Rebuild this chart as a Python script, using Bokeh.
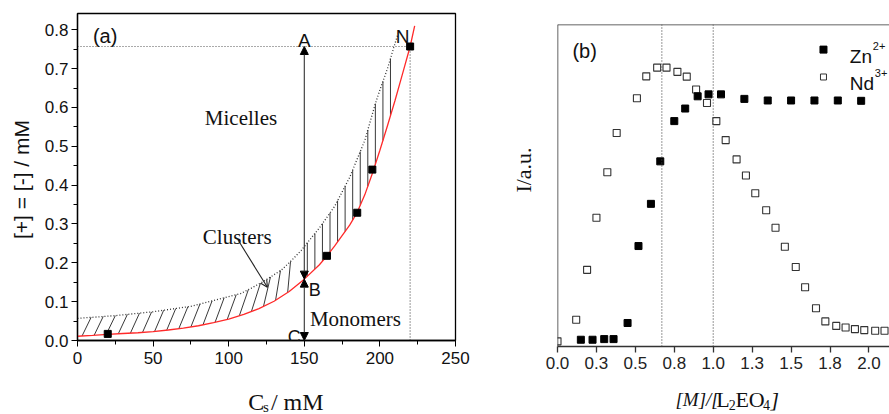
import numpy as np
from bokeh.plotting import figure
from bokeh.layouts import row, column
from bokeh.models import FixedTicker, Label, Arrow, NormalHead, OpenHead, Span, Range1d
from bokeh.embed import file_html
from bokeh.resources import INLINE

# ---------------- data: panel (a) ----------------
cs_red = [0, 10, 20, 30, 40, 50, 60, 70, 80, 90, 100, 110, 120, 130, 140, 150,
          160, 165, 170, 180, 185, 190, 195, 200, 205, 210, 215, 220, 223]
conc_red = [0.011, 0.013, 0.016, 0.018, 0.020, 0.023, 0.027, 0.032, 0.038, 0.046,
            0.055, 0.067, 0.082, 0.101, 0.126, 0.158, 0.195, 0.218, 0.243, 0.297,
            0.330, 0.375, 0.430, 0.490, 0.553, 0.618, 0.687, 0.757, 0.810]
cs_dot = [0, 25, 50, 75, 100, 108, 115, 123, 135, 141, 148, 150, 160, 170, 180,
          190, 197, 200, 205, 210, 212]
conc_dot = [0.057, 0.064, 0.074, 0.088, 0.113, 0.121, 0.135, 0.152, 0.182, 0.204,
            0.232, 0.242, 0.290, 0.345, 0.420, 0.515, 0.610, 0.645, 0.700, 0.765, 0.790]
cs_pts = [20, 165, 185, 195, 220]
conc_pts = [0.017, 0.218, 0.329, 0.440, 0.757]
cs_abc = 150
conc_A = 0.757
conc_B = 0.158
conc_C = 0.0
xa_ticks = [0, 50, 100, 150, 200, 250]
xa_labels = ["0", "50", "100", "150", "200", "250"]
xa_minor = [25, 75, 125, 175, 225]
ya_ticks = [0.0, 0.1, 0.2, 0.3, 0.4, 0.5, 0.6, 0.7, 0.8]
ya_labels = ["0.0", "0.1", "0.2", "0.3", "0.4", "0.5", "0.6", "0.7", "0.8"]
ya_minor = [0.05, 0.15, 0.25, 0.35, 0.45, 0.55, 0.65, 0.75]

# ---------------- data: panel (b) ----------------
zn_x = [0.15, 0.225, 0.30, 0.36, 0.45, 0.52, 0.60, 0.66, 0.75, 0.82, 0.90, 0.97,
        1.05, 1.20, 1.35, 1.50, 1.65, 1.80, 1.95]
zn_y = [0.021, 0.021, 0.023, 0.023, 0.073, 0.312, 0.443, 0.575, 0.700, 0.739,
        0.777, 0.783, 0.783, 0.769, 0.764, 0.764, 0.764, 0.764, 0.763]
nd_x = [0.00, 0.12, 0.19, 0.25, 0.32, 0.38, 0.51, 0.57, 0.64, 0.70, 0.77, 0.83,
        0.89, 0.96, 1.02, 1.08, 1.15, 1.21, 1.27, 1.34, 1.40, 1.46, 1.53, 1.59,
        1.66, 1.72, 1.79, 1.85, 1.91, 1.97, 2.04, 2.10]
nd_y = [0.016, 0.083, 0.238, 0.400, 0.541, 0.663, 0.771, 0.839, 0.866, 0.866,
        0.853, 0.838, 0.798, 0.756, 0.700, 0.641, 0.581, 0.531, 0.476, 0.423,
        0.369, 0.310, 0.247, 0.184, 0.119, 0.078, 0.064, 0.059, 0.054, 0.051,
        0.049, 0.049]
ratio_lines = [0.67, 1.0]
xb_ticks = [0.0, 0.25, 0.5, 0.75, 1.0, 1.25, 1.5, 1.75, 2.0]
xb_labels = ["0.0", "0.3", "0.5", "0.8", "1.0", "1.3", "1.5", "1.8", "2.0"]

SANS = "Liberation Sans"
SERIF = "Liberation Serif"


def lab(p, x, y, text, font=SANS, size="18px", align="left", style="normal",
        angle=0.0, baseline="alphabetic", color="#111111"):
    p.add_layout(Label(x=x, y=y, text=text, text_font=font, text_font_size=size,
                       text_align=align, text_font_style=style, angle=angle,
                       text_baseline=baseline, text_color=color))


def strip(w, h, x0, x1, y_bottom, y_top):
    """Blank figure whose frame fills the canvas, ranged in page pixels."""
    s = figure(width=w, height=h, x_range=Range1d(x0, x1),
               y_range=Range1d(y_bottom, y_top), min_border=0,
               x_axis_location=None, y_axis_location=None,
               output_backend="svg", toolbar_location=None)
    s.grid.visible = False
    s.outline_line_color = None
    s.background_fill_color = "white"
    s.border_fill_color = "white"
    return s


# ================= panel (a) =================
p1 = figure(width=432, height=370, x_range=(0, 250), y_range=(0, 0.842),
            min_border_left=39, min_border_right=15, min_border_top=13,
            min_border_bottom=30, output_backend="svg", toolbar_location=None)
p1.grid.visible = False
p1.outline_line_color = "black"
p1.outline_line_width = 1.3
p1.background_fill_color = "white"
p1.border_fill_color = "white"

p1.xaxis.ticker = FixedTicker(ticks=xa_ticks, minor_ticks=xa_minor)
p1.xaxis.major_label_overrides = {t: l for t, l in zip(xa_ticks, xa_labels)}
p1.yaxis.ticker = FixedTicker(ticks=ya_ticks, minor_ticks=ya_minor)
p1.yaxis.major_label_overrides = {t: l for t, l in zip(ya_ticks, ya_labels)}
for ax in (p1.xaxis, p1.yaxis):
    ax.axis_line_color = "black"
    ax.axis_line_width = 1.3
    ax.major_tick_in = 0
    ax.major_tick_out = 6
    ax.minor_tick_in = 0
    ax.minor_tick_out = 4
    ax.major_tick_line_color = "black"
    ax.minor_tick_line_color = "black"
    ax.major_label_text_font = SANS
    ax.major_label_text_font_size = "17px"
    ax.major_label_text_color = "#111111"
p1.xaxis.major_label_standoff = 5
p1.yaxis.major_label_standoff = 3

# hatching between the monomer curve and the dotted cluster curve
hx = np.concatenate([np.arange(3, 147, 8), np.arange(152, 210, 5)]).astype(float)
hdx = np.interp(hx, [0, 115, 150], [6, 6, 0])
h_y0 = np.interp(hx, cs_red, conc_red)
h_y1 = np.interp(hx + hdx, cs_dot, conc_dot)
p1.segment(x0=hx, y0=h_y0, x1=hx + hdx, y1=h_y1, line_color="#222222", line_width=0.9)

# reference dotted lines to N
p1.line([0, cs_pts[-1]], [conc_pts[-1], conc_pts[-1]], line_color="#555555",
        line_dash="1 2", line_width=1.2)
p1.line([cs_pts[-1], cs_pts[-1]], [0, conc_pts[-1]], line_color="#555555",
        line_dash="1 2", line_width=1.2)

p1.line(cs_dot, conc_dot, line_color="#333333", line_dash="1 2", line_width=1.3)
p1.line(cs_red, conc_red, line_color="#ff2a2a", line_width=1.3)
p1.scatter(cs_pts, conc_pts, marker="square", size=7, color="black")

head = dict(size=8, fill_color="black", line_color="black")
p1.add_layout(Arrow(x_start=cs_abc, y_start=conc_B, x_end=cs_abc, y_end=conc_A,
                    line_color="#333333", line_width=1.1,
                    start=NormalHead(**head), end=NormalHead(**head)))
p1.add_layout(Arrow(x_start=cs_abc, y_start=conc_B, x_end=cs_abc, y_end=conc_C,
                    line_color="#333333", line_width=1.1,
                    start=NormalHead(**head), end=NormalHead(**head)))
p1.add_layout(Arrow(x_start=106, y_start=0.26, x_end=125.6, y_end=0.137,
                    line_color="#222222", line_width=1.1,
                    end=OpenHead(size=7, line_color="#222222", line_width=1.1)))

lab(p1, 10.2, 0.785, "(a)", size="20px")
lab(p1, cs_abc, 0.772, "A", size="19px", align="center")
lab(p1, 215, 0.783, "N", size="19px", align="center")
lab(p1, 153, 0.130, "B", size="18px")
lab(p1, 147.7, 0.008, "C", size="18px", align="right")
lab(p1, 84.2, 0.572, "Micelles", font=SERIF, size="21px")
lab(p1, 82.9, 0.267, "Clusters", font=SERIF, size="21px")
lab(p1, 153.7, 0.0546, "Monomers", font=SERIF, size="21px")

# axis-title strips for (a), ranged in page pixels
sAL = strip(38, 414, 0, 38, 414, 0)
lab(sAL, 21, 179, "[+] = [-] / mM", size="21px", align="center",
    angle=np.pi / 2, baseline="middle")
sAB = strip(432, 44, 38, 470, 414, 370)
lab(sAB, 233, 401, "C", font=SERIF, size="24px")
lab(sAB, 250, 406, "s", font=SERIF, size="15px")
lab(sAB, 259, 401, "/ mM", font=SERIF, size="24px")

# ================= panel (b) =================
p2 = figure(width=349, height=376, x_range=(0, 2.132), y_range=(0, 1.0),
            min_border_left=17, min_border_right=0, min_border_top=24,
            min_border_bottom=30, output_backend="svg", toolbar_location=None)
p2.grid.visible = False
p2.outline_line_color = None
p2.background_fill_color = "white"
p2.border_fill_color = "white"
p2.yaxis.visible = False
p2.add_layout(Span(location=1.0, dimension="width", line_color="#333333",
                   line_width=1.5))
p2.add_layout(Span(location=0.0, dimension="height", line_color="#333333",
                   line_width=1.5))

p2.xaxis.ticker = FixedTicker(ticks=xb_ticks, minor_ticks=[])
p2.xaxis.major_label_overrides = {t: l for t, l in zip(xb_ticks, xb_labels)}
p2.xaxis.axis_line_color = "#333333"
p2.xaxis.axis_line_width = 1.5
p2.xaxis.major_tick_in = 0
p2.xaxis.major_tick_out = 6
p2.xaxis.minor_tick_line_color = None
p2.xaxis.major_tick_line_color = "#333333"
p2.xaxis.major_tick_line_width = 1.3
p2.xaxis.major_label_text_font = SANS
p2.xaxis.major_label_text_font_size = "17px"
p2.xaxis.major_label_text_color = "#222222"
p2.xaxis.major_label_standoff = 4

for xv in ratio_lines:
    p2.add_layout(Span(location=xv, dimension="height", line_color="#444444",
                       line_dash="1 2", line_width=1.1))

p2.scatter(nd_x, nd_y, marker="square", size=7, fill_color="white",
           line_color="#333333", line_width=1.1)
p2.scatter(zn_x, zn_y, marker="square", size=7, color="black")

# legend (manual, for the superscripts)
p2.scatter([1.708], [0.922], marker="square", size=7, color="black")
p2.scatter([1.708], [0.837], marker="square", size=6, fill_color="white",
           line_color="#333333", line_width=1.0)
lab(p2, 1.877, 0.901, "Zn", size="19px")
lab(p2, 2.025, 0.934, "2+", size="11px")
lab(p2, 1.877, 0.818, "Nd", size="19px")
lab(p2, 2.038, 0.850, "3+", size="11px")
lab(p2, 0.096, 0.917, "(b)", size="20px")

sBL = strip(70, 414, 470, 540, 414, 0)
lab(sBL, 522.5, 169.5, "I/a.u.", font=SERIF, size="22px", align="center",
    angle=np.pi / 2, baseline="middle")
sBB = strip(349, 38, 540, 889, 414, 376)
lab(sBB, 664, 399, "[M]/[", font=SERIF, size="19px", style="italic")
lab(sBB, 707, 399, "L", font=SERIF, size="22px")
lab(sBB, 720, 404, "2", font=SERIF, size="14px")
lab(sBB, 727, 399, "EO", font=SERIF, size="22px")
lab(sBB, 756, 404, "4", font=SERIF, size="14px")
lab(sBB, 764, 399, "]", font=SERIF, size="22px", style="italic")

layout = row(sAL, column(p1, sAB), sBL, column(p2, sBB))
open("out.html", "w").write(file_html(layout, INLINE))
